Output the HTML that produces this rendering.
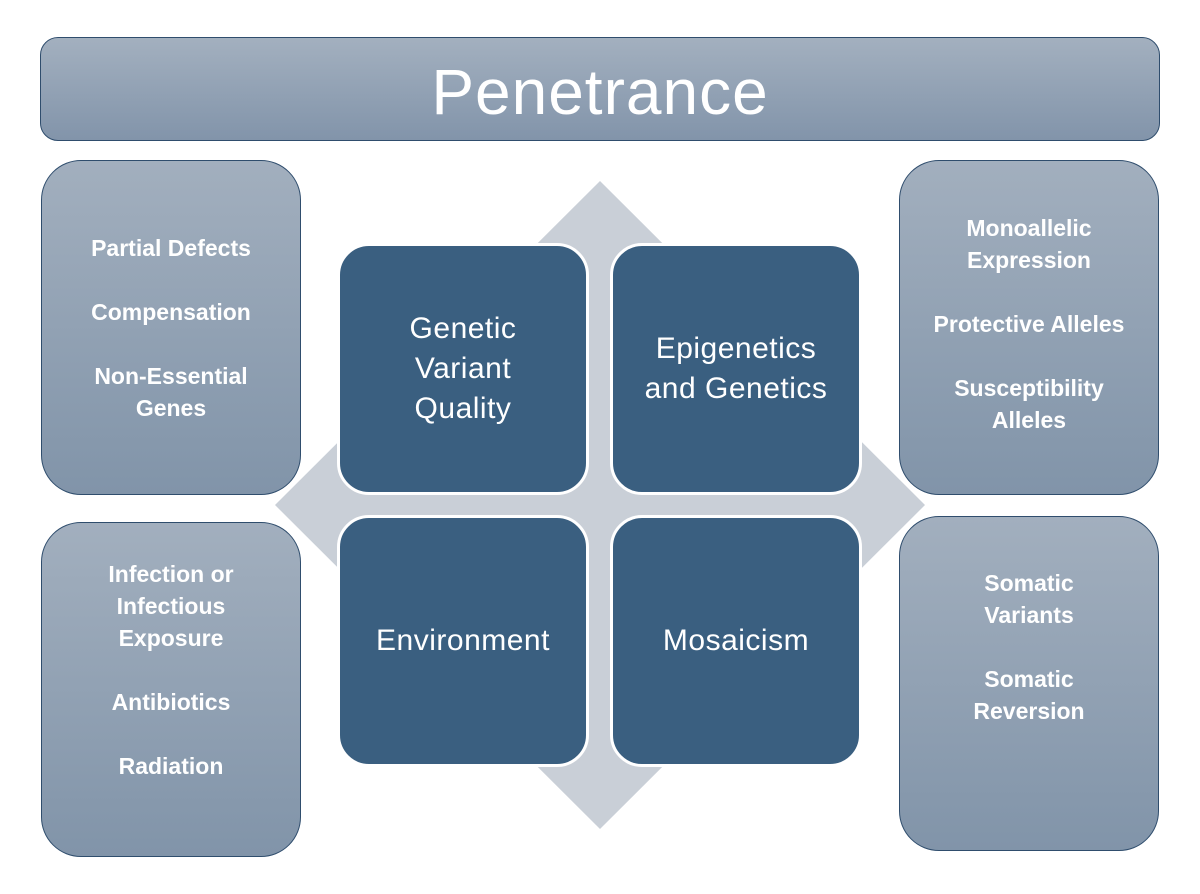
<!DOCTYPE html>
<html><head><style>
body{margin:0;width:1200px;height:894px;background:#fff;position:relative;overflow:hidden;font-family:"Liberation Sans",sans-serif}
.b{position:absolute;box-sizing:border-box;display:flex;align-items:center;justify-content:center;text-align:center;color:#fff}
.t{left:40px;top:37px;width:1120px;height:104px;border-radius:18px;border:1.5px solid #2f4d6d;background:linear-gradient(#a3b0bf,#8294aa);font-size:64px;letter-spacing:1px;padding-top:6px}
.s{width:260px;height:335px;border-radius:40px;border:1.5px solid #2f4d6d;background:linear-gradient(#a2afbe,#8194a9);font-weight:bold;font-size:23px;line-height:32px}
.c{width:252px;height:252px;border-radius:32px;border:3px solid #fff;background:#3a5f80;font-size:30px;line-height:40px;letter-spacing:0.5px}
</style></head><body>
<svg style="position:absolute;left:0;top:0" width="1200" height="894"><polygon points="600,181 925,505 600,829 275,505" fill="#c9cfd7"/></svg>
<div class="b t">Penetrance</div>
<div class="b s" style="left:41px;top:160px">Partial Defects<br><br>Compensation<br><br>Non-Essential<br>Genes</div>
<div class="b s" style="left:41px;top:522px;padding-bottom:40px">Infection or<br>Infectious<br>Exposure<br><br>Antibiotics<br><br>Radiation</div>
<div class="b s" style="left:899px;top:160px;padding-bottom:8px">Monoallelic<br>Expression<br><br>Protective Alleles<br><br>Susceptibility<br>Alleles</div>
<div class="b s" style="left:899px;top:516px;padding-bottom:74px">Somatic<br>Variants<br><br>Somatic<br>Reversion</div>
<div class="b c" style="left:337px;top:243px">Genetic<br>Variant<br>Quality</div>
<div class="b c" style="left:610px;top:243px">Epigenetics<br>and Genetics</div>
<div class="b c" style="left:337px;top:515px">Environment</div>
<div class="b c" style="left:610px;top:515px">Mosaicism</div>
</body></html>
